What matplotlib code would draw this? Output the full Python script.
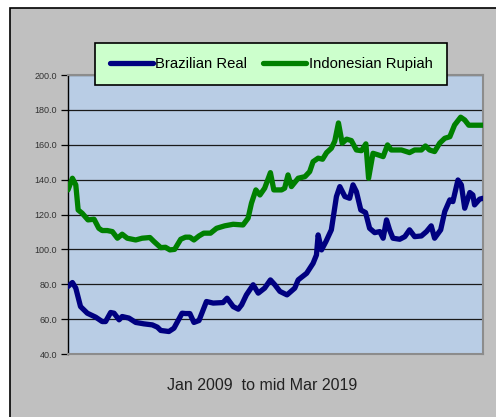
import matplotlib
matplotlib.use("Agg")
import matplotlib.pyplot as plt
from matplotlib.patches import Rectangle

# months since Jan 2009
real_months = [0, 1.3, 2.3, 3.7, 5.7, 8.2, 10.1, 11.1, 12.6, 13.6, 15.1, 16.0, 18.0, 20.0,
               22.4, 24.9, 26.4, 27.4, 29.8, 31.3, 33.7, 34.7, 36.0, 37.2, 38.7, 40.9,
               42.9, 45.8, 47.0, 48.8, 50.3, 51.3, 52.7, 54.7, 56.2, 58.1, 59.8, 61.1,
               62.6, 64.7, 67.0, 68.0, 70.5, 72.4, 73.4, 73.9, 74.9, 76.2, 77.8, 79.3,
               80.3, 81.8, 83.2, 84.2, 85.2, 86.5, 87.9, 89.1, 90.6, 92.1, 93.1, 94.1,
               95.0, 96.0, 98.0, 99.5, 100.9, 102.4, 104.4, 105.9, 107.3, 108.3, 110.1,
               111.3, 112.8, 113.7, 115.2, 116.2, 117.2, 118.7, 119.6, 120.1, 121.6, 122.6]
real_values = [78.7, 81.0, 77.8, 67.2, 63.4, 61.1, 58.6, 58.6, 63.8, 63.4, 59.6, 61.5, 60.6, 58.1,
               57.3, 56.7, 55.4, 53.5, 52.9, 54.8, 63.4, 63.2, 63.2, 58.1, 59.2, 70.1,
               69.2, 69.5, 72.0, 67.2, 65.7, 68.2, 73.9, 79.7, 74.9, 77.8, 82.5, 79.7,
               75.9, 73.9, 77.8, 82.5, 86.3, 92.0, 96.8, 108.3, 99.7, 104.5, 111.2, 130.3,
               136.0, 130.3, 129.3, 137.0, 133.1, 122.6, 121.1, 112.1, 109.6, 110.2, 106.4, 116.9,
               111.2, 106.4, 105.8, 107.3, 111.2, 107.3, 107.7, 110.2, 113.5, 106.4, 111.2,
               121.7, 128.4, 127.4, 139.8, 137.0, 123.6, 132.6, 131.2, 125.5, 128.8, 129.3]

rupiah_months = [0, 1.3, 2.3, 3.0, 4.2, 5.9, 7.7, 9.1, 10.1, 11.6, 13.1, 14.6, 16.0, 17.5,
                 20.0, 21.9, 24.2, 25.4, 27.4, 28.8, 30.1, 31.5, 33.3, 34.7, 36.0, 37.2,
                 38.7, 40.1, 42.1, 43.9, 46.3, 48.8, 51.7, 53.2, 54.2, 55.5, 56.7, 58.1,
                 59.8, 60.8, 63.1, 64.0, 65.0, 66.0, 68.0, 70.0, 71.4, 72.4, 73.9, 75.2,
                 76.4, 77.8, 78.8, 79.9, 81.0, 82.3, 83.7, 85.2, 86.7, 88.0, 88.8, 90.1,
                 91.6, 93.1, 94.4, 95.5, 98.5, 100.9, 102.4, 104.4, 105.6, 106.8, 108.3,
                 109.8, 111.3, 112.8, 114.2, 116.0, 117.2, 118.4, 122.6]
rupiah_values = [134.1, 140.8, 137.0, 122.6, 120.7, 116.9, 117.3, 112.1, 110.8, 110.8, 110.2, 106.4, 108.7, 106.4,
                 105.4, 106.4, 106.8, 104.5, 101.0, 101.2, 99.7, 100.0, 105.8, 107.0, 107.0, 105.4,
                 107.7, 109.3, 109.3, 112.1, 113.5, 114.4, 114.0, 117.9, 126.5, 134.1, 131.2, 135.1,
                 144.0, 134.1, 134.1, 135.1, 142.7, 136.0, 140.8, 141.7, 144.6, 150.3, 152.3, 151.7,
                 155.5, 158.0, 162.0, 172.5, 160.9, 163.2, 162.4, 157.0, 156.6, 160.5, 140.8, 155.1,
                 154.2, 153.2, 159.9, 157.0, 157.0, 155.5, 157.0, 157.0, 159.3, 157.0, 156.1,
                 160.9, 163.7, 164.6, 171.3, 175.8, 174.2, 171.2, 171.2]

yticks = [40, 60, 80, 100, 120, 140, 160, 180, 200]

plt.rcParams['font.family'] = ['Liberation Sans', 'DejaVu Sans']

fig = plt.figure(figsize=(4.96, 4.17), dpi=100)
fig.patch.set_facecolor('white')
# grey chart area with black frame (only left/top edges fall inside the image)
fig.patches.append(Rectangle((10 / 496, -0.1), 1.2, 1.1 - 8 / 417, transform=fig.transFigure,
                             facecolor='#c0c0c0', edgecolor='black', linewidth=1.2, zorder=-10))

ax = fig.add_axes([68 / 496, 1 - 354 / 417, 415 / 496, 279 / 417])
ax.set_facecolor('#b9cde5')

ax.plot(real_months, real_values, color='#000080', lw=3.8, solid_joinstyle='round',
        solid_capstyle='round', label='Brazilian Real', zorder=3)
ax.plot(rupiah_months, rupiah_values, color='#008000', lw=3.8, solid_joinstyle='round',
        solid_capstyle='round', label='Indonesian Rupiah', zorder=3)

ax.set_xlim(0, 122.6)
ax.set_ylim(40, 200)
ax.set_yticks(yticks)
ax.set_yticklabels(['%.1f' % v for v in yticks], fontsize=6.5, color='#333333')
ax.set_xticks([])
ax.tick_params(axis='y', length=5, width=0.9, color='black', pad=3)
ax.yaxis.grid(True, color='#1a1a1a', lw=0.9)
ax.set_axisbelow(True)

ax.spines['left'].set_color('black')
ax.spines['left'].set_linewidth(1.0)
for s in ['top', 'right', 'bottom']:
    ax.spines[s].set_color('#8c8c8c')
    ax.spines[s].set_linewidth(1.5)

leg = fig.legend(loc='center', bbox_to_anchor=(271 / 496, 1 - 64 / 417), ncol=2,
                 fontsize=10.7, frameon=True, fancybox=False, handlelength=2.9,
                 handletextpad=0.15, columnspacing=1.1, borderpad=0.95, borderaxespad=0)
leg.get_frame().set_facecolor('#ccffcc')
leg.get_frame().set_edgecolor('black')
leg.get_frame().set_linewidth(1.2)
leg.get_frame().set_alpha(1)

fig.text(262 / 496, 1 - 386 / 417, 'Jan 2009  to mid Mar 2019', ha='center', va='center',
         fontsize=11.5, color='#222222')

fig.savefig('out.png', dpi=100)
